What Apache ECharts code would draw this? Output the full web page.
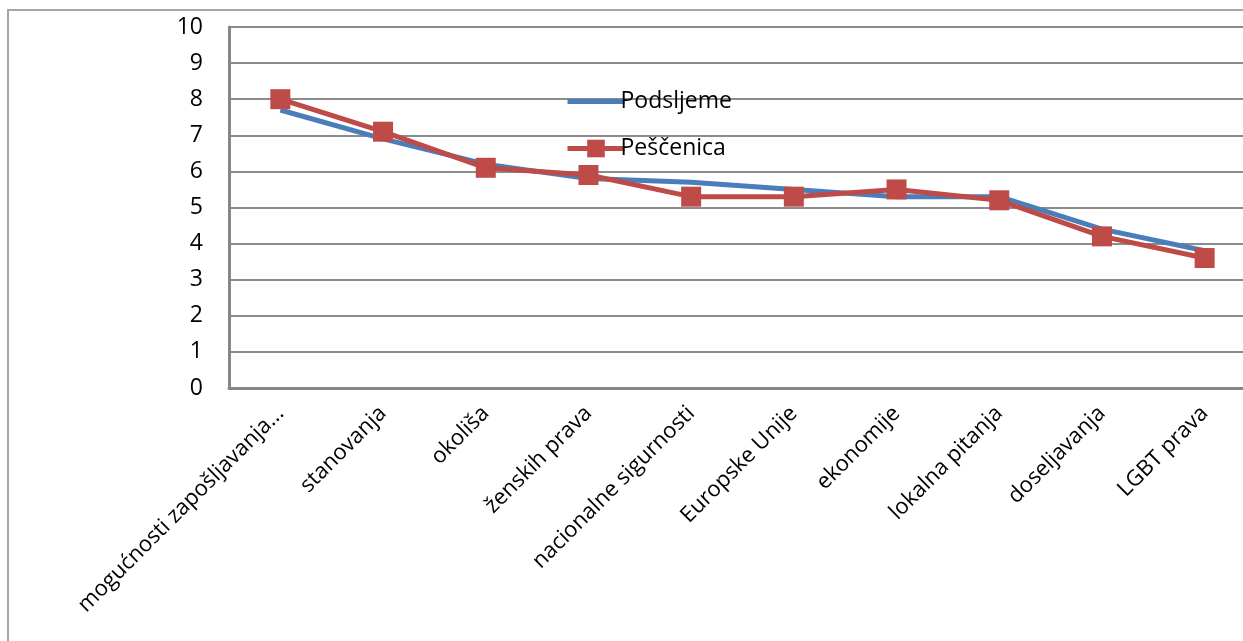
<!DOCTYPE html>
<html><head><meta charset="utf-8">
<script src="https://cdn.jsdelivr.net/npm/echarts@6/dist/echarts.min.js"></script>
<style>html,body{margin:0;padding:0;background:#fff;overflow:hidden;}#c{width:1256px;height:641px;}</style>
</head><body><div id="c"></div>
<script>
const categories = ["mogućnosti zapošljavanja...","stanovanja","okoliša","ženskih prava","nacionalne sigurnosti","Europske Unije","ekonomije","lokalna pitanja","doseljavanja","LGBT prava"];
const podsljeme = [7.7, 6.9, 6.2, 5.8, 5.7, 5.5, 5.3, 5.3, 4.4, 3.8];
const pescenica = [8.0, 7.1, 6.1, 5.9, 5.3, 5.3, 5.5, 5.2, 4.2, 3.6];
const yTicks = [0,1,2,3,4,5,6,7,8,9,10];

const font = '"Open Sans", "DejaVu Sans", sans-serif';
const chart = echarts.init(document.getElementById('c'));
chart.setOption({
  animation: false,
  graphic: [{
    type: 'rect', z: -1,
    shape: {x: 8, y: 10, width: 1260, height: 660},
    style: {fill: 'none', stroke: '#a6a6a6', lineWidth: 2}
  }],
  grid: {left: 229, top: 27, height: 361, right: 0, containLabel: false},
  legend: {
    orient: 'vertical', left: 560, top: 85, itemGap: 24,
    itemWidth: 57, itemHeight: 22,
    textStyle: {fontFamily: font, fontSize: 23, color: '#000', padding: [0,0,0,-9]},
    data: [
      {name: 'Podsljeme', itemStyle: {opacity: 0}, lineStyle: {width: 5, color: '#4a7ebb'}},
      {name: 'Peščenica', lineStyle: {width: 5, color: '#be4b48'}}
    ]
  },
  xAxis: {
    type: 'category', data: categories, boundaryGap: true,
    axisLine: {lineStyle: {color: '#868686', width: 3}},
    axisTick: {show: false},
    axisLabel: {rotate: 45, interval: 0, margin: 22, fontFamily: font, fontSize: 22, color: '#000'}
  },
  yAxis: {
    type: 'value', min: yTicks[0], max: yTicks[yTicks.length-1], interval: 1,
    axisLine: {show: true, lineStyle: {color: '#868686', width: 3}},
    axisTick: {show: false},
    splitLine: {lineStyle: {color: '#8c8c8c', width: 2}},
    axisLabel: {margin: 26, fontFamily: font, fontSize: 23, color: '#000'}
  },
  series: [
    {name: 'Podsljeme', type: 'line', data: podsljeme, showSymbol: false, symbol: 'none',
     lineStyle: {color: '#4a7ebb', width: 5}, itemStyle: {color: '#4a7ebb'}},
    {name: 'Peščenica', type: 'line', data: pescenica, symbol: 'rect', symbolSize: 20,
     lineStyle: {color: '#be4b48', width: 5}, itemStyle: {color: '#be4b48'}}
  ]
});
</script></body></html>
